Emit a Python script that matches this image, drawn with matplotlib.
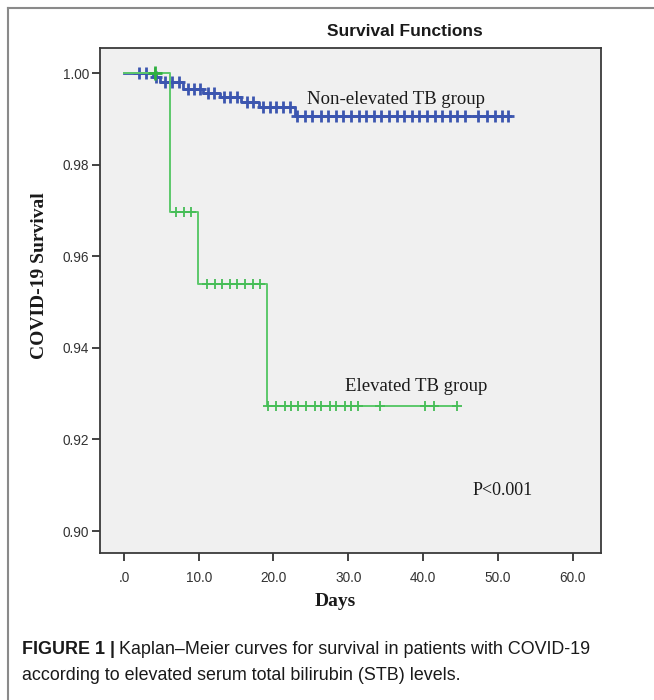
import numpy as np
import matplotlib
matplotlib.use("Agg")
import matplotlib.pyplot as plt
from matplotlib.lines import Line2D

# ---- data ----
blue_times = [0, 3.9, 4.8, 7.9, 10.6, 12.8, 15.7, 18.0, 22.9, 51.6]
blue_surv = [1.0, 0.99906, 0.9981, 0.99644, 0.99557, 0.9947, 0.99374, 0.99265, 0.9907, 0.9907]
blue_censor = [2.0, 3.0, 4.3, 5.5, 6.4, 7.3, 8.6, 9.4, 10.2, 11.2, 12.0,
               13.4, 14.2, 15.1, 16.4, 17.2, 18.6, 19.5, 20.4, 21.3, 22.2,
               23.2, 24.2, 25.2, 26.3, 27.3, 28.3, 29.3, 30.3, 31.4, 32.4, 33.4,
               34.4, 35.4, 36.5, 37.5, 38.5, 39.5, 40.5, 41.6, 42.6, 43.6, 44.6,
               45.6, 47.3, 48.5, 49.6, 50.5, 51.4]

green_times = [0, 6.1, 9.9, 19.1, 44.5]
green_surv = [1.0, 0.9697, 0.954, 0.9274, 0.9274]
green_censor = [4.1, 7.0, 8.1, 9.0, 11.1, 12.2, 13.1, 14.2, 15.1, 16.2, 17.2, 18.2,
                19.3, 20.4, 21.5, 22.4, 23.3, 24.4, 25.5, 26.4, 27.5, 28.4, 29.5,
                30.4, 31.3, 34.2, 40.2, 41.4, 44.5]

xticks = [0, 10, 20, 30, 40, 50, 60]
xticklabels = [".0", "10.0", "20.0", "30.0", "40.0", "50.0", "60.0"]
yticks = [0.90, 0.92, 0.94, 0.96, 0.98, 1.00]
yticklabels = ["0.90", "0.92", "0.94", "0.96", "0.98", "1.00"]


def surv_at(times, surv, t):
    idx = np.searchsorted(np.array(times), np.array(t), side="right") - 1
    return np.array(surv)[idx]


W, H = 654, 700
fig = plt.figure(figsize=(W / 100, H / 100), dpi=100)
fig.patch.set_facecolor("white")

ax = fig.add_axes([100 / W, 1 - 553 / H, 501 / W, 505 / H])
ax.set_facecolor("#f0f0f0")

blue = "#3c56b0"
green = "#5cc86b"

ax.step(blue_times, blue_surv, where="post", color=blue, lw=2.0, zorder=3)
ax.plot(blue_censor, surv_at(blue_times, blue_surv, blue_censor), ls="none",
        marker="+", ms=8, mew=2.0, color=blue, zorder=3)
ax.step(green_times, green_surv, where="post", color=green, lw=1.4, zorder=4)
ax.plot(green_censor, surv_at(green_times, green_surv, green_censor), ls="none",
        marker="+", ms=7, mew=1.3, color="#45bd56", zorder=4)
# larger green censor at day ~4
ax.plot([green_censor[0]], [surv_at(green_times, green_surv, [green_censor[0]])[0]],
        ls="none", marker="+", ms=10, mew=2.0, color="#2fb040", zorder=5)

ax.set_xlim(-3.2, 63.8)
ax.set_ylim(0.8952, 1.00546)
ax.set_xticks(xticks)
ax.set_xticklabels(xticklabels)
ax.set_yticks(yticks)
ax.set_yticklabels(yticklabels)
for s in ax.spines.values():
    s.set_color("#3a3a3a")
    s.set_linewidth(1.3)
ax.tick_params(axis="both", direction="out", length=6, width=1.2, color="#222222",
               labelsize=9.8, labelcolor="#333333", pad=2)
ax.tick_params(axis="x", pad=7)
for lab in ax.get_xticklabels() + ax.get_yticklabels():
    lab.set_fontfamily("Liberation Sans")

ax.text(24.5, 0.9942, "Non-elevated TB group", family="Liberation Serif", fontsize=13.5,
        color="#1a1a1a", ha="left", va="center")
ax.text(29.5, 0.9316, "Elevated TB group", family="Liberation Serif", fontsize=13.5,
        color="#1a1a1a", ha="left", va="center")
ax.text(46.6, 0.9088, "P<0.001", family="Liberation Serif", fontsize=13,
        color="#1a1a1a", ha="left", va="center")

fig.text(405 / W, 1 - 32 / H, "Survival Functions", family="Liberation Sans",
         fontsize=12.5, fontweight="bold", ha="center", va="center", color="#1a1a1a")
fig.text(335 / W, 1 - 602 / H, "Days", family="Liberation Serif", fontsize=14,
         fontweight="bold", ha="center", va="center", color="#1a1a1a")
fig.text(40 / W, 1 - 276 / H, "COVID-19 Survival", family="Liberation Serif", fontsize=14,
         fontweight="bold", ha="center", va="center", rotation=90, color="#1a1a1a")

# frame lines (top and left)
fig.add_artist(Line2D([8 / W, 8 / W], [0, 1 - 8 / H], transform=fig.transFigure,
                      color="#8a8a8a", lw=1.5))
fig.add_artist(Line2D([8 / W, 1], [1 - 8 / H, 1 - 8 / H], transform=fig.transFigure,
                      color="#8a8a8a", lw=1.5))

# caption
cap_size = 12.9
t1 = fig.text(22 / W, 1 - 650 / H, "FIGURE 1 |", family="Liberation Sans",
              fontsize=cap_size, fontweight="bold", ha="left", va="center", color="#1a1a1a")
fig.canvas.draw()
r = fig.canvas.get_renderer()
bb = t1.get_window_extent(r)
fig.text((bb.x1 + 4) / W, 1 - 650 / H,
         "Kaplan\u2013Meier curves for survival in patients with COVID-19",
         family="Liberation Sans", fontsize=cap_size, ha="left", va="center", color="#1a1a1a")
fig.text(22 / W, 1 - 676 / H,
         "according to elevated serum total bilirubin (STB) levels.",
         family="Liberation Sans", fontsize=cap_size, ha="left", va="center", color="#1a1a1a")

fig.savefig("out.png", dpi=100)
